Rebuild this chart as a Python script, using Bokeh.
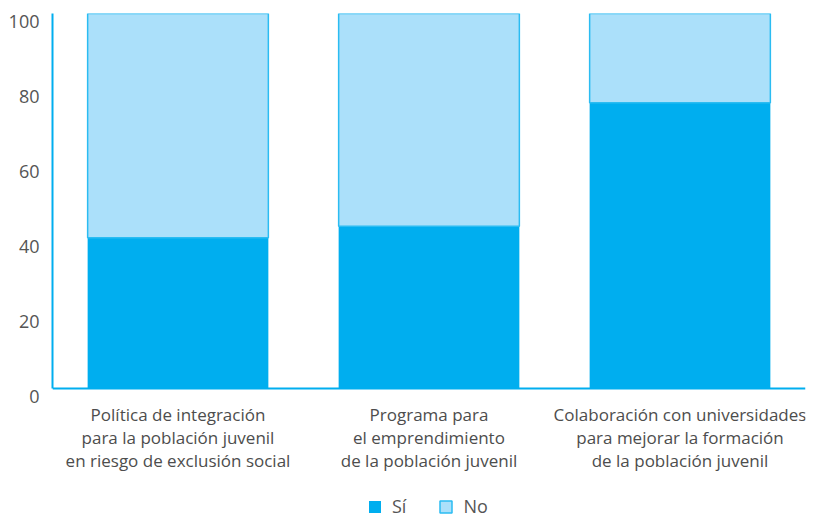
from bokeh.plotting import figure
from bokeh.models import (ColumnDataSource, FactorRange, Range1d, FixedTicker, LinearAxis,
                          Legend, LegendItem, Span)
from bokeh.core.properties import value
from bokeh.embed import file_html
from bokeh.resources import INLINE

categories = [
    "Política de integración\npara la población juvenil\nen riesgo de exclusión social",
    "Programa para\nel emprendimiento\nde la población juvenil",
    "Colaboración con universidades\npara mejorar la formación\nde la población juvenil",
]
si_values = [40.2, 43.3, 76.2]
no_values = [100 - v for v in si_values]
y_ticks = [0, 20, 40, 60, 80, 100]
series = ["Sí", "No"]
colors = ["#00aeef", "#abe0fa"]

PX_PER_UNIT = 3.75
FRAME_H = 518 - 13
Y_MIN = 100 - FRAME_H / PX_PER_UNIT      # frame continues below 0 to hold the category labels
LABEL_SHIFT = 8 / PX_PER_UNIT            # tick labels sit ~8px below their ticks
CAT_LABEL_Y = -49 / PX_PER_UNIT          # centre of the 3-line category labels

source = ColumnDataSource(dict(cat=categories, Si=si_values, No=no_values,
                               ly=[CAT_LABEL_Y] * len(categories)))

p = figure(
    width=807, height=518,
    x_range=FactorRange(*categories, range_padding=0),
    y_range=Range1d(Y_MIN, 100),
    output_backend="svg", toolbar_location=None,
    min_border_left=52, min_border_right=2, min_border_top=13, min_border_bottom=0,
)
p.extra_y_ranges = {"lab": Range1d(Y_MIN + LABEL_SHIFT, 100 + LABEL_SHIFT)}

r_si = p.vbar(x="cat", bottom=0, top="Si", width=0.72, source=source,
              fill_color=colors[0], line_color=None)
r_no = p.vbar(x="cat", bottom="Si", top=100, width=0.72, source=source,
              fill_color=colors[1], line_color="#2bbcf2", line_width=1.5)

p.text(x="cat", y="ly", text="cat", source=source,
       text_align="center", text_baseline="middle",
       text_font=value("Open Sans"), text_font_size="17px",
       text_color="#4d4d4d", text_line_height=1.015)

p.outline_line_color = None
p.grid.visible = False
p.background_fill_color = "white"
p.xaxis.visible = False

# baseline
p.add_layout(Span(location=0, dimension="width", line_color="#00aeef", line_width=2))

# main y axis: only the line from 0 to 100
ya = p.yaxis[0]
ya.ticker = FixedTicker(ticks=[])
ya.bounds = (0, 100)
ya.axis_line_color = "#00aeef"
ya.axis_line_width = 2
ya.major_tick_line_color = None
ya.minor_tick_line_color = None
ya.major_label_standoff = 0

# label axis
la = LinearAxis(y_range_name="lab", ticker=FixedTicker(ticks=y_ticks))
la.axis_line_color = None
la.major_tick_line_color = None
la.minor_tick_line_color = None
la.major_label_standoff = 7
la.major_label_text_font = "Open Sans"
la.major_label_text_font_size = "18px"
la.major_label_text_color = "#555555"
p.add_layout(la, "left")

legend = Legend(
    items=[LegendItem(label=series[0], renderers=[r_si]),
           LegendItem(label=series[1], renderers=[r_no])],
    orientation="horizontal", location=(315, 0),
    glyph_width=15, glyph_height=15, label_standoff=10, spacing=32,
    padding=0, margin=0, border_line_color=None, background_fill_alpha=0,
    label_text_font="Open Sans", label_text_font_size="18px", label_text_color="#555555",
    label_height=15, label_width=0,
)
p.add_layout(legend, "center")

open("out.html", "w").write(file_html(p, INLINE))
